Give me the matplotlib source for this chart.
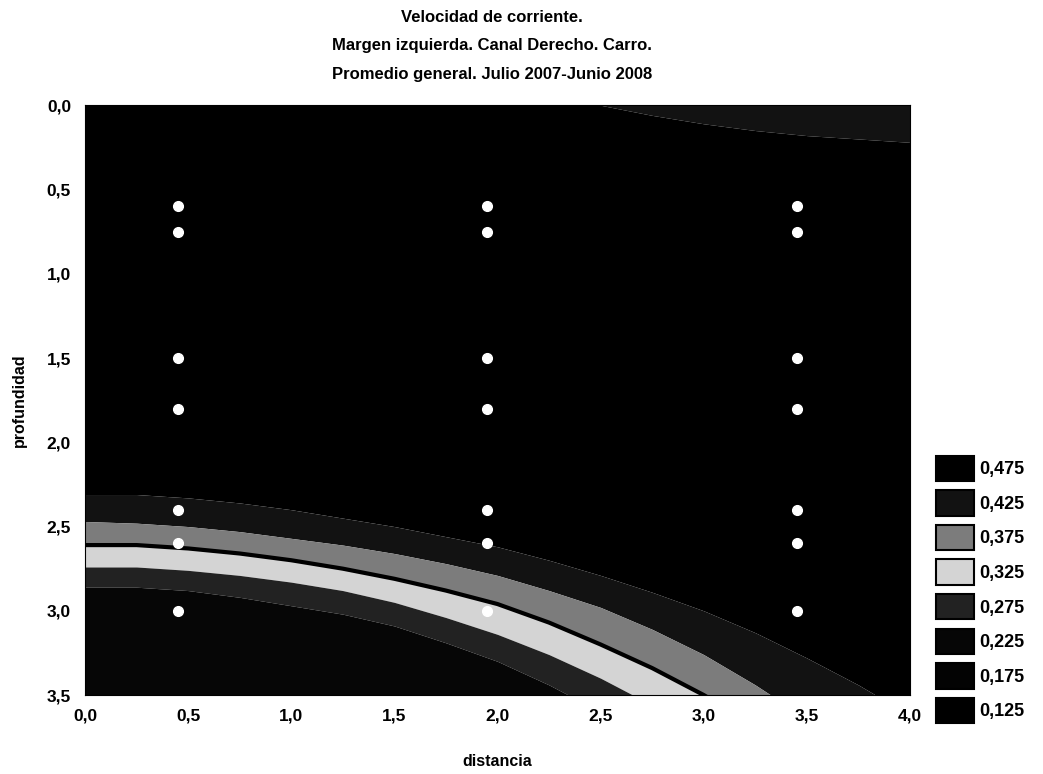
import matplotlib.pyplot as plt
from matplotlib.patches import Patch
from matplotlib.ticker import FuncFormatter

# distance along the section (x) where the isoline depths were read
dist = [0.0, 0.25, 0.5, 0.75, 1.0, 1.25, 1.5, 1.75, 2.0, 2.25, 2.5, 2.75, 3.0, 3.25, 3.5, 3.75, 4.0]

# depth of each isoline
surf_045 = [0, 0, 0, 0, 0, 0, 0, 0, 0, 0, 0, 0.06, 0.11, 0.15, 0.18, 0.20, 0.22]
iso_045 = [2.31, 2.31, 2.33, 2.36, 2.40, 2.45, 2.50, 2.56, 2.62, 2.70, 2.79, 2.89, 3.00, 3.13, 3.28, 3.44, 3.62]
iso_040 = [2.47, 2.48, 2.50, 2.53, 2.57, 2.61, 2.66, 2.72, 2.79, 2.88, 2.98, 3.11, 3.26, 3.44, 3.64, 3.86, 4.10]
iso_035 = [2.61, 2.61, 2.63, 2.66, 2.70, 2.75, 2.81, 2.88, 2.96, 3.07, 3.20, 3.34, 3.50, 3.68, 3.88, 4.10, 4.30]
iso_030 = [2.74, 2.74, 2.76, 2.79, 2.83, 2.88, 2.95, 3.04, 3.14, 3.26, 3.40, 3.56, 3.74, 3.94, 4.15, 4.37, 4.60]
iso_025 = [2.86, 2.86, 2.88, 2.92, 2.97, 3.02, 3.09, 3.19, 3.30, 3.44, 3.60, 3.78, 3.98, 4.20, 4.42, 4.65, 4.90]

# sampling points
pts_x = [0.45] * 7 + [1.95] * 7 + [3.45] * 7
pts_depth = [0.6, 0.75, 1.5, 1.8, 2.4, 2.6, 3.0] * 3

# legend classes
levels = [0.475, 0.425, 0.375, 0.325, 0.275, 0.225, 0.175, 0.125]
colors = ['#000000', '#121212', '#7c7c7c', '#d4d4d4', '#222222', '#060606', '#030303', '#000000']
col = dict(zip(levels, colors))

title_lines = ['Velocidad de corriente.',
               'Margen izquierda. Canal Derecho. Carro.',
               'Promedio general. Julio 2007-Junio 2008']

plt.rcParams['font.family'] = ['Liberation Sans', 'DejaVu Sans']
plt.rcParams['font.weight'] = 'bold'
plt.rcParams['axes.labelweight'] = 'bold'

fig = plt.figure(figsize=(10.43, 7.74), dpi=100)
ax = fig.add_axes([0.0815, 0.102, 0.791, 0.762])

bottom = [5.0] * len(dist)
ax.fill_between(dist, 0, surf_045, color=col[0.425], lw=0)
ax.fill_between(dist, surf_045, iso_045, color=col[0.475], lw=0)
ax.fill_between(dist, iso_045, iso_040, color=col[0.425], lw=0)
ax.fill_between(dist, iso_040, iso_035, color=col[0.375], lw=0)
ax.fill_between(dist, iso_035, iso_030, color=col[0.325], lw=0)
ax.fill_between(dist, iso_030, iso_025, color=col[0.275], lw=0)
ax.fill_between(dist, iso_025, bottom, color=col[0.225], lw=0)
ax.plot(dist, iso_035, color='black', lw=3)

ax.plot(pts_x, pts_depth, 'o', color='white', ms=7, mec='white')

ax.set_xlim(0, 4)
ax.set_ylim(3.5, 0)
ax.set_xticks([0, 0.5, 1, 1.5, 2, 2.5, 3, 3.5, 4])
ax.set_yticks([0, 0.5, 1, 1.5, 2, 2.5, 3, 3.5])
fmt = FuncFormatter(lambda v, p: f'{v:.1f}'.replace('.', ','))
ax.xaxis.set_major_formatter(fmt)
ax.yaxis.set_major_formatter(fmt)
ax.tick_params(length=0, labelsize=12.5, pad=10)
for s in ax.spines.values():
    s.set_color('black')

ax.set_xlabel('distancia', fontsize=11.5, labelpad=22)
ax.set_ylabel('profundidad', fontsize=11.5, labelpad=14)

for i, t in enumerate(title_lines):
    fig.text(0.472, 0.978 - i * 0.037, t, ha='center', va='center', fontsize=12)

handles = [Patch(facecolor=col[l], edgecolor='black', lw=1.5) for l in levels]
labels = [f'{l:.3f}'.replace('.', ',') for l in levels]
fig.legend(handles, labels, loc='upper left', bbox_to_anchor=(0.889, 0.423),
           frameon=False, fontsize=13, handlelength=2.1, handleheight=1.8,
           labelspacing=0.5, handletextpad=0.3, borderpad=0)

fig.savefig('out.png', dpi=100)
